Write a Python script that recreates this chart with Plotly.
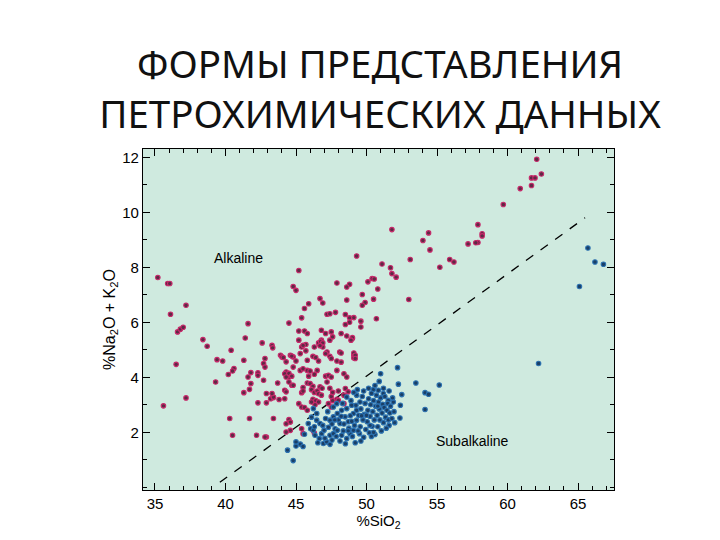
import plotly.graph_objects as go

# ---------------- data ----------------
title_lines = ["ФОРМЫ ПРЕДСТАВЛЕНИЯ", "ПЕТРОХИМИЧЕСКИХ ДАННЫХ"]
x_ticks = [35, 40, 45, 50, 55, 60, 65]
y_ticks = [2, 4, 6, 8, 10, 12]

# Irvine–Baragar dividing line (end points)
divider_sio2 = [39.6, 65.5]
divider_alk = [0.18, 9.8]

alkaline_pts = [
    (35.2, 7.63), (35.9, 7.41), (36.05, 7.41), (37.2, 6.62), (36.1, 6.29),
    (36.6, 5.65), (36.8, 5.75), (37.0, 5.82), (41.6, 5.95), (45.2, 7.88),
    (49.3, 8.41), (44.8, 7.3), (45.0, 7.16), (47.9, 7.43), (48.8, 7.38),
    (48.6, 7.28), (48.6, 6.81), (46.7, 6.86), (46.9, 6.70), (45.9, 6.67),
    (45.6, 6.50), (45.4, 6.16), (44.5, 5.97), (47.2, 6.29), (47.4, 6.31),
    (47.8, 6.36), (48.5, 6.28), (48.8, 6.16), (49.1, 6.17), (48.8, 6.0),
    (48.5, 5.92), (62.07, 11.93), (62.4, 11.39), (61.7, 11.25), (61.95, 11.25),
    (61.7, 10.97), (60.9, 10.86), (59.7, 10.28), (57.9, 9.55), (58.2, 9.22),
    (58.2, 9.14), (57.9, 8.9), (57.75, 8.89), (57.2, 8.85), (51.8, 9.37),
    (54.4, 9.25), (54.0, 8.97), (54.5, 8.63), (53.1, 8.28), (51.1, 8.12),
    (51.7, 7.98), (51.8, 7.77), (52.1, 7.64), (50.4, 7.59), (50.1, 7.47),
    (50.55, 7.57), (50.8, 7.21), (49.7, 7.01), (50.5, 6.84), (49.9, 6.72),
    (49.7, 6.62), (53.0, 6.83), (55.2, 8.0), (55.9, 8.28), (56.2, 8.19),
    (49.6, 6.04), (49.6, 5.83), (50.7, 6.13), (49.0, 5.41), (49.1, 4.8),
    (49.1, 4.7), (38.4, 5.37), (38.7, 5.13), (40.4, 4.98), (41.4, 5.43),
    (42.6, 5.25), (45.2, 5.68), (45.6, 5.68), (45.8, 5.59), (46.8, 5.71),
    (47.1, 5.59), (47.5, 5.65), (48.2, 5.59), (48.6, 5.50), (49.0, 5.44),
    (48.9, 5.35), (46.8, 5.35), (46.7, 5.2), (46.9, 5.1), (47.4, 5.35),
    (47.6, 5.47), (45.4, 5.1), (45.7, 5.19), (46.3, 5.1), (43.3, 5.16),
    (43.35, 5.07), (48.1, 4.92), (49.1, 4.88), (47.2, 4.92), (36.5, 4.47),
    (39.4, 4.64), (39.8, 4.59), (41.3, 4.62), (40.6, 4.32), (40.5, 4.23),
    (40.2, 4.10), (39.3, 3.83), (37.2, 3.25), (35.6, 2.96), (41.8, 4.17),
    (41.6, 4.01), (42.3, 4.16), (42.3, 4.07), (41.8, 3.77), (41.7, 3.56),
    (41.3, 3.44), (42.7, 3.89), (42.8, 4.68), (42.3, 3.07), (40.3, 2.50),
    (41.7, 2.50), (40.5, 1.89), (42.2, 1.89), (42.9, 1.83), (43.9, 4.8),
    (44.0, 4.74), (44.3, 4.56), (44.6, 4.8), (44.8, 4.74), (43.2, 3.22),
    (43.4, 3.26), (43.8, 3.19), (42.9, 3.07), (44.3, 4.19), (44.2, 4.13),
    (44.5, 4.01), (44.5, 3.83), (44.2, 3.53), (44.3, 3.47), (44.7, 3.71),
    (44.8, 4.37), (45.2, 5.35), (45.5, 5.16), (45.7, 4.96), (45.3, 4.86),
    (45.8, 4.62), (46.6, 5.25), (46.75, 5.3), (46.9, 5.25), (46.7, 5.15),
    (45.3, 4.25), (45.5, 4.31), (45.8, 4.25), (44.5, 2.46), (44.6, 2.37),
    (44.3, 2.31), (44.6, 2.07), (44.3, 2.01), (45.4, 2.13), (45.5, 1.95),
    (42.8, 1.83), (46.2, 2.07), (46.3, 1.97), (43.4, 2.5), (44.1, 4.72),
    (44.7, 4.77), (45.0, 4.59), (46.2, 4.76), (46.4, 4.72), (46.6, 4.59),
    (47.1, 4.86), (47.4, 4.76), (47.5, 4.68), (47.9, 4.59), (48.2, 4.55),
    (48.2, 4.88), (49.2, 4.8), (49.2, 4.68), (43.7, 3.79), (44.5, 4.14),
    (44.3, 4.01), (44.7, 4.04), (44.8, 3.71), (45.5, 3.63), (45.4, 3.44),
    (45.5, 3.5), (46.0, 4.23), (45.9, 4.04), (46.5, 4.25), (46.3, 4.11),
    (45.8, 3.79), (46.0, 3.77), (46.2, 3.67), (46.1, 3.55), (46.3, 3.45),
    (46.5, 3.5), (46.7, 3.65), (46.6, 3.4), (46.8, 3.35), (46.85, 3.6),
    (46.2, 3.2), (46.4, 3.15), (46.6, 3.1), (46.35, 3.0), (46.1, 3.1),
    (47.4, 3.6), (47.5, 3.3), (47.6, 3.45), (47.9, 3.2), (47.6, 3.15),
    (48.0, 3.5), (45.2, 3.04), (45.4, 2.92), (45.6, 2.9), (45.8, 2.8),
    (44.2, 3.22), (43.4, 3.28), (42.9, 3.41), (43.3, 3.41), (42.7, 4.5),
    (42.8, 4.37), (47.1, 4.04), (47.3, 4.07), (47.5, 4.01), (47.2, 3.83),
    (47.9, 4.25), (48.4, 4.13), (48.6, 4.01), (48.5, 3.59), (48.7, 3.47),
    (48.4, 3.35), (48.0, 3.16), (48.4, 3.04), (47.5, 2.92), (47.3, 3.04),
]

subalkaline_pts = [
    (44.8, 0.97), (44.4, 1.35), (45.0, 1.5), (45.3, 1.57), (45.5, 1.48),
    (45.0, 1.65), (45.6, 1.93), (45.87, 2.32), (46.04, 2.13), (46.23, 2.07),
    (46.47, 2.44), (46.7, 2.32), (46.35, 1.89), (46.65, 1.77), (46.94, 1.59),
    (47.18, 1.65), (47.41, 1.56), (46.82, 1.95), (46.99, 2.07), (47.41, 1.89),
    (47.65, 1.95), (47.77, 2.13), (47.41, 2.44), (47.65, 2.56), (47.93, 2.68),
    (48.24, 2.8), (48.6, 2.86), (48.48, 2.56), (48.12, 2.32), (47.93, 2.07),
    (48.24, 1.89), (48.6, 1.77), (48.12, 1.68), (48.83, 1.95), (49.07, 2.07),
    (49.3, 2.44), (49.07, 2.68), (48.71, 2.38), (49.3, 2.8), (48.95, 2.98),
    (49.54, 3.1), (46.47, 2.68), (46.23, 2.86), (47.65, 2.92), (47.89, 3.04),
    (48.6, 3.28), (49.3, 3.35), (51.0, 4.13), (52.2, 4.35), (52.26, 3.75),
    (53.5, 3.79), (55.16, 3.72), (54.15, 3.44), (54.4, 3.38), (52.5, 3.37),
    (54.15, 2.83), (52.4, 2.98), (52.37, 2.52), (51.6, 2.25), (51.9, 3.1),
    (51.54, 3.16), (51.19, 3.41), (50.84, 3.53), (50.48, 3.55), (62.2, 4.5),
    (65.7, 8.7), (66.2, 8.19), (66.8, 8.11), (65.1, 7.3),
    (46.1, 2.55), (46.3, 2.2), (46.55, 1.62), (46.9, 2.25), (47.1, 2.5),
    (47.25, 2.75), (47.05, 1.78), (47.55, 1.72), (47.3, 2.18), (47.55, 2.3),
    (47.85, 1.85), (48.0, 2.45), (48.35, 2.05), (48.4, 2.3), (48.5, 1.58),
    (48.75, 2.15), (48.85, 2.6), (49.0, 1.85), (49.15, 2.25), (49.2, 1.62),
    (49.25, 2.98), (49.45, 2.62), (49.5, 1.95), (49.55, 2.2), (49.6, 2.85),
    (49.7, 3.3), (49.75, 2.45), (49.8, 1.82), (49.85, 2.65), (49.9, 3.05),
    (49.95, 2.1), (50.05, 2.38), (50.1, 2.8), (50.15, 3.22), (50.2, 1.98),
    (50.25, 2.58), (50.3, 3.0), (50.35, 3.42), (50.4, 2.22), (50.45, 2.75),
    (50.5, 3.15), (50.55, 2.45), (50.6, 1.92), (50.65, 2.95), (50.7, 3.35),
    (50.75, 2.62), (50.8, 2.2), (50.85, 3.1), (50.9, 2.85), (50.95, 2.45),
    (51.0, 3.25), (51.05, 2.05), (51.1, 2.7), (51.15, 3.02), (51.2, 2.35),
    (51.25, 2.9), (51.3, 3.3), (51.35, 2.55), (51.4, 2.15), (51.45, 2.8),
    (51.5, 3.05), (51.55, 2.45), (51.65, 2.7), (51.7, 2.95), (51.8, 2.5),
    (51.85, 3.25), (51.95, 2.75), (52.0, 2.35), (50.15, 3.6), (50.6, 3.7),
    (49.35, 3.55), (48.9, 3.15), (48.3, 3.05), (49.6, 1.68), (50.35, 1.85),
    (49.1, 3.45), (48.7, 2.05), (48.2, 2.58), (47.75, 2.45), (50.0, 2.62),
    (50.5, 2.0), (49.4, 2.05), (48.95, 2.4), (49.8, 3.5), (51.2, 3.6),
    (50.9, 3.85), (51.6, 3.5), (50.25, 2.25), (49.65, 2.6), (50.8, 2.95),
]

alk_sio2 = [p[0] for p in alkaline_pts]
alk_total = [p[1] for p in alkaline_pts]
sub_sio2 = [p[0] for p in subalkaline_pts]
sub_total = [p[1] for p in subalkaline_pts]

# ---------------- figure ----------------
fig = go.Figure()

fig.add_trace(go.Scatter(
    x=divider_sio2, y=divider_alk, mode="lines",
    line=dict(color="black", width=1.3, dash="dash"),
    hoverinfo="skip", showlegend=False))

fig.add_trace(go.Scatter(
    x=alk_sio2, y=alk_total, mode="markers", name="Alkaline",
    marker=dict(size=4.5, color="#5e2a45", line=dict(color="#c8286a", width=1.1)),
    showlegend=False))

fig.add_trace(go.Scatter(
    x=sub_sio2, y=sub_total, mode="markers", name="Subalkaline",
    marker=dict(size=4.5, color="#1a3f66", line=dict(color="#2a70b0", width=1.1)),
    showlegend=False))

tickfont = dict(family="Liberation Sans, Arial, sans-serif", size=15, color="black")

fig.update_layout(
    width=720, height=540,
    paper_bgcolor="white", plot_bgcolor="#cfeadf",
    margin=dict(l=135, r=114, t=141, b=58),
    title=dict(
        text="<br>".join(title_lines),
        font=dict(family="Noto Sans, sans-serif", size=38.5, color="#111111"),
        x=372 / 720, xanchor="center", xref="container",
        y=1 - 70 / 540, yanchor="middle", yref="container"),
    xaxis=dict(
        range=[34.15, 67.55], tickvals=x_ticks, ticks="inside", ticklen=7,
        tickcolor="black", showgrid=False, zeroline=False,
        showline=True, linecolor="black", linewidth=1.2, mirror="ticks",
        minor=dict(dtick=1, tick0=0, ticks="inside", ticklen=4, tickcolor="black", showgrid=False),
        tickfont=tickfont,
        title=dict(text="%SiO<sub>2</sub>", font=tickfont, standoff=0)),
    yaxis=dict(
        range=[-0.1, 12.3], tickvals=y_ticks, ticks="inside", ticklen=7,
        tickcolor="black", showgrid=False, zeroline=False,
        showline=True, linecolor="black", linewidth=1.2, mirror="ticks",
        minor=dict(dtick=1, tick0=0, ticks="inside", ticklen=4, tickcolor="black", showgrid=False),
        tickfont=tickfont,
        title=dict(text="%Na<sub>2</sub>O + K<sub>2</sub>O",
                   font=dict(family="Liberation Sans, Arial, sans-serif", size=16, color="black"),
                   standoff=2)),
    annotations=[
        dict(x=40.9, y=8.33, text="Alkaline", showarrow=False,
             font=dict(family="Liberation Sans, Arial, sans-serif", size=14, color="black")),
        dict(x=57.5, y=1.67, text="Subalkaline", showarrow=False,
             font=dict(family="Liberation Sans, Arial, sans-serif", size=14, color="black")),
    ],
)

fig.write_html("out.html")
